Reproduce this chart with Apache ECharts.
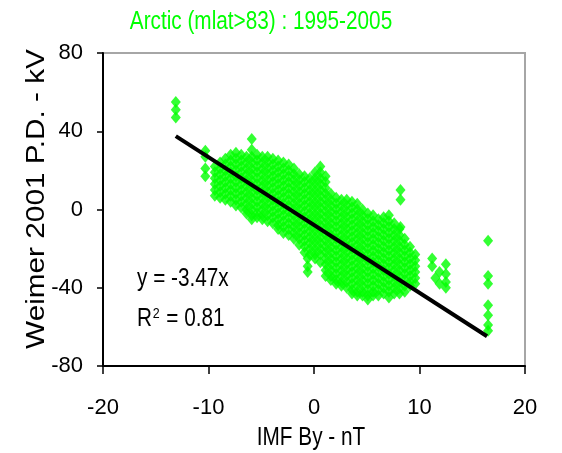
<!DOCTYPE html>
<html><head><meta charset="utf-8">
<script src="https://cdn.jsdelivr.net/npm/echarts@6/dist/echarts.min.js"></script>
<style>html,body{margin:0;padding:0;background:#fff}#c{width:562px;height:453px}</style>
</head><body><div id="c"></div>
<script>
// Columns of scatter points: IMF By (nT) and the Weimer P.D. values (kV) read at that By
const byNT = [-13.1, -10.3, -9.4, -8.9, -8.4, -7.9, -7.4, -6.9, -6.4, -5.9, -5.4, -4.9, -4.4, -3.9, -3.4, -2.9, -2.4, -1.9, -1.4, -0.9, -0.6, -0.4, 0.1, 0.6, 1.1, 1.6, 2.1, 2.6, 3.1, 3.6, 4.1, 4.6, 5.1, 5.6, 6.1, 6.6, 7.1, 7.6, 8.1, 8.2, 8.6, 9.1, 9.6, 11.2, 11.5, 11.9, 12.5, 16.5];
const pdKV = [
  [55, 51, 47],
  [30, 27, 21, 17],
  [22, 19, 16, 13, 10, 7],
  [24, 21, 18, 15, 12, 9, 6],
  [26, 23, 20, 17, 14, 11, 8, 5],
  [28, 25, 22, 19, 16, 13, 10, 7, 4],
  [29, 26, 23, 20, 17, 14, 11, 8, 5, 2],
  [28, 25, 22, 19, 16, 13, 10, 7, 4, 1],
  [27, 24, 21, 18, 15, 12, 9, 6, 3, 0, -2],
  [36, 30.5, 27, 24, 21, 18, 15, 12, 9, 6, 3, 0, -3, -5],
  [28, 25, 22, 19, 16, 13, 10, 7, 4, 1, -2, -4],
  [27, 24, 21, 18, 15, 12, 9, 6, 3, 0, -3, -5],
  [27, 24, 21, 18, 15, 12, 9, 6, 3, 0, -3, -6],
  [26, 23, 20, 17, 14, 11, 8, 5, 2, -1, -4, -7],
  [25, 22, 19, 16, 13, 10, 7, 4, 1, -2, -5, -8, -10],
  [24, 21, 18, 15, 12, 9, 6, 3, 0, -3, -6, -9, -12],
  [23, 20, 17, 14, 11, 8, 5, 2, -1, -4, -7, -10, -13],
  [21, 18, 15, 12, 9, 6, 3, 0, -3, -6, -9, -12, -15],
  [18, 15, 12, 9, 6, 3, 0, -3, -6, -9, -12, -15, -18],
  [17, 14, 11, 8, 5, 2, -1, -4, -7, -10, -13, -16, -19, -22],
  [-25, -29, -32],
  [16, 13, 10, 7, 4, 1, -2, -5, -8, -11, -14, -17, -20, -23],
  [19, 16, 13, 10, 7, 4, 1, -2, -5, -8, -11, -14, -17, -20, -23, -25],
  [22, 19, 16, 13, 10, 7, 4, 1, -2, -5, -8, -11, -14, -17, -20, -23, -27],
  [17, 14, 11, 8, 5, 2, -1, -4, -7, -10, -13, -16, -19, -22, -25, -28, -31, -34],
  [8, 5, 2, -1, -4, -7, -10, -13, -16, -19, -22, -25, -28, -31, -34, -36],
  [6, 3, 0, -3, -6, -9, -12, -15, -18, -21, -24, -27, -30, -33, -36, -38],
  [5, 2, -1, -4, -7, -10, -13, -16, -19, -22, -25, -28, -31, -34, -37, -39],
  [5, 2, -1, -4, -7, -10, -13, -16, -19, -22, -25, -28, -31, -34, -37, -40],
  [4, 1, -2, -5, -8, -11, -14, -17, -20, -23, -26, -29, -32, -35, -38, -41, -43],
  [3, 0, -3, -6, -9, -12, -15, -18, -21, -24, -27, -30, -33, -36, -39, -42, -44],
  [0, -3, -6, -9, -12, -15, -18, -21, -24, -27, -30, -33, -36, -39, -42, -44],
  [-2, -5, -8, -11, -14, -17, -20, -23, -26, -29, -32, -35, -38, -41, -44, -46],
  [-3, -6, -9, -12, -15, -18, -21, -24, -27, -30, -33, -36, -39, -42, -44],
  [-5, -8, -11, -14, -17, -20, -23, -26, -29, -32, -35, -38, -41, -44],
  [-4, -7, -10, -13, -16, -19, -22, -25, -28, -31, -34, -37, -40, -43],
  [-3, -6, -9, -12, -15, -18, -21, -24, -27, -30, -33, -36, -39, -42, -45],
  [-7, -10, -13, -16, -19, -22, -25, -28, -31, -34, -37, -40, -43],
  [-10, -13, -16, -19, -22, -25, -28, -31, -34, -37, -40, -43],
  [10, 5, -9],
  [-15, -18, -21, -24, -27, -30, -33, -36, -39, -42],
  [-19, -22, -25, -28, -31, -34, -37, -39],
  [-23, -26, -29, -32, -35, -38],
  [-25, -29],
  [-35],
  [-38, -32],
  [-28, -33, -37, -40],
  [-16, -34, -38, -49, -54, -59, -62]
];
// Regression line end points
const fitX = [-13.1, 16.4];
const fitY = [37.5, -64.8];
// Axis ticks
const xTicks = [-20, -10, 0, 10, 20];
const yTicks = [-80, -40, 0, 40, 80];

const titleText = 'Arctic (mlat>83) : 1995-2005';
const xName = 'IMF By - nT';
const yName = 'Weimer 2001 P.D. - kV';
const eqText = 'y = -3.47x';

const points = [];
byNT.forEach((x, i) => pdKV[i].forEach(y => points.push([x, y])));
const fitLine = fitX.map((x, i) => [x, fitY[i]]);

const FONT = "'Liberation Sans', Arial, sans-serif";
const NARROW = 0.83;
const chart = echarts.init(document.getElementById('c'), null, {renderer: 'canvas'});
chart.setOption({
  animation: false,
  backgroundColor: '#fff',
  grid: {left: 103, right: 37, top: 53, bottom: 87, show: true, borderColor: '#a6a6a6', borderWidth: 2, backgroundColor: 'transparent'},
  xAxis: {
    type: 'value', min: xTicks[0], max: xTicks[xTicks.length - 1], interval: 10,
    axisLine: {onZero: false, lineStyle: {color: '#000', width: 2}},
    axisTick: {show: true, inside: false, length: 8, lineStyle: {color: '#000', width: 1.5}},
    splitLine: {show: false},
    axisLabel: {color: '#000', fontFamily: FONT, fontSize: 22, margin: 31}
  },
  yAxis: {
    type: 'value', min: yTicks[0], max: yTicks[yTicks.length - 1], interval: 40,
    axisLine: {onZero: false, lineStyle: {color: '#000', width: 2}},
    axisTick: {show: true, inside: false, length: 6, lineStyle: {color: '#000', width: 1.5}},
    splitLine: {show: false},
    axisLabel: {color: '#000', fontFamily: FONT, fontSize: 22, margin: 20}
  },
  graphic: [
    {type: 'text', x: 261, y: 22, scaleX: NARROW, style: {text: titleText, fill: '#00ff00', font: "25px " + FONT, textAlign: 'center', textVerticalAlign: 'middle'}},
    {type: 'text', x: 311, y: 438, scaleX: NARROW, style: {text: xName, fill: '#000', font: "25px " + FONT, textAlign: 'center', textVerticalAlign: 'middle'}},
    {type: 'text', x: 37, y: 199, rotation: Math.PI / 2, scaleX: 1.19, style: {text: yName, fill: '#000', font: "25px " + FONT, textAlign: 'center', textVerticalAlign: 'middle'}},
    {type: 'text', x: 137, y: 279, scaleX: NARROW, style: {text: eqText, fill: '#000', font: "25px " + FONT, textAlign: 'left', textVerticalAlign: 'middle'}},
    {type: 'text', x: 137, y: 306, scaleX: NARROW, style: {rich: {
      n: {fontFamily: FONT, fontSize: 25, fill: '#000', color: '#000'},
      s: {fontFamily: FONT, fontSize: 15, fill: '#000', color: '#000', verticalAlign: 'top', padding: [0, 1, 12, 1]}
    }, text: '{n|R}{s|2}{n| = 0.81}'}}
  ],
  series: [
    {type: 'scatter', data: points, symbol: 'diamond', symbolSize: [10, 12], itemStyle: {color: '#00ff00'}, z: 2},
    {type: 'line', data: fitLine, symbol: 'none', lineStyle: {color: '#000', width: 4}, z: 3}
  ]
});
</script></body></html>
